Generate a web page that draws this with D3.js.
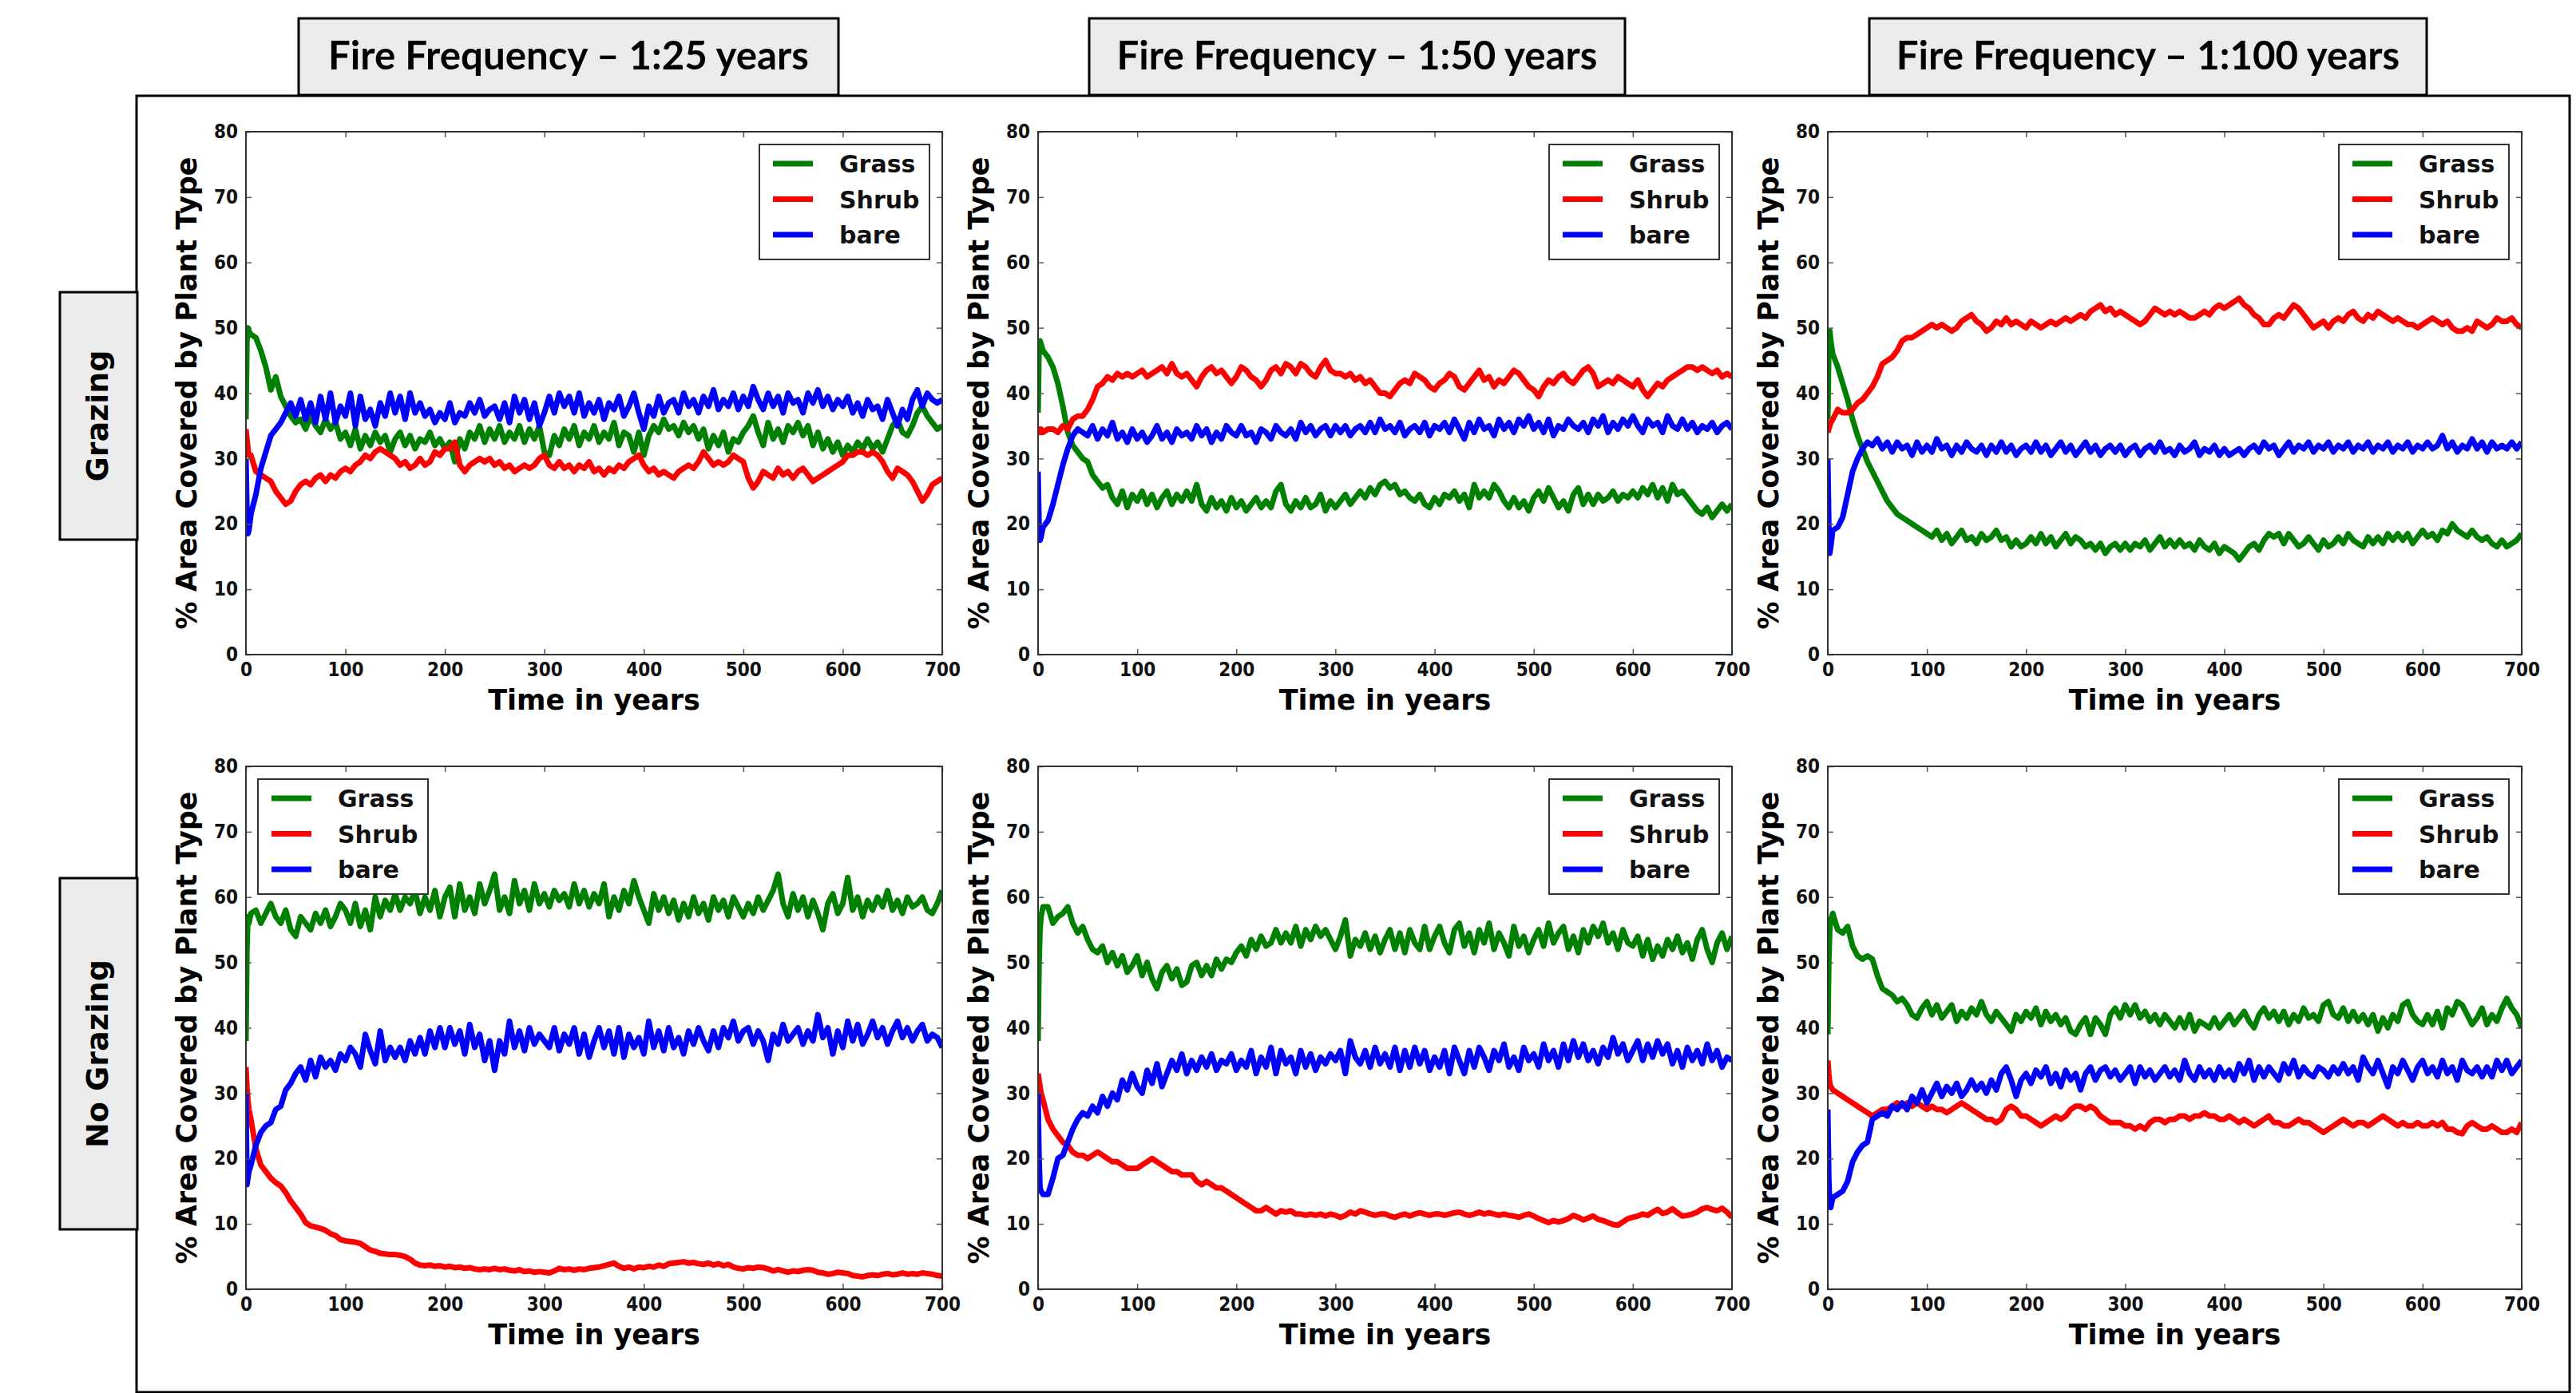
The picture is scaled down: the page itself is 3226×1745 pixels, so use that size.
<!DOCTYPE html>
<html><head><meta charset="utf-8">
<script src="https://cdn.jsdelivr.net/npm/d3@7"></script>
<style>html,body{margin:0;padding:0;background:#fff;overflow:hidden}</style>
</head><body>
<svg id="chart" width="3226" height="1745"></svg>
<script>
// ---------- DATA ----------
const columnTitles = ["Fire Frequency \u2013 1:25 years", "Fire Frequency \u2013 1:50 years", "Fire Frequency \u2013 1:100 years"];
const rowTitles = ["Grazing", "No Grazing"];
const seriesNames = ["Grass", "Shrub", "bare"];
const xTicks = [0, 100, 200, 300, 400, 500, 600, 700];
const yTicks = [0, 10, 20, 30, 40, 50, 60, 70, 80];
const xLabel = "Time in years";
const yLabel = "% Area Covered by Plant Type";
const years = [0, 1, 2, 3].concat(d3.range(5, 701, 5));

// Grazing, fire 1:25
const grazing25Grass = [36,48,50,49.5,
 49,48.5,46.5,44,40.5,42.5,39.5,38,36.5,35.5,
 36,34.5,36.5,35,34,36,34.5,35.5,33,34,
 32,34.5,31.5,33.5,32,34,32.5,33.5,31,33,
 34,32,33.5,31.5,33,32.5,34,32,33,31.5,
 32.5,29.5,33,31.5,34,33,35,32.5,34.5,33,
 35,32.5,34,33,35,32.5,34.5,33,35,31,
 30.5,33.5,32,34.5,33,35,32,34,33,35,
 32.5,34,33,35.5,32,34,33.5,31,34,30.5,
 33.5,35,34,36,34.5,35,33.5,35.5,34,35,
 33,34.5,31.5,33.5,32,34,31,33,32.5,34,
 35,36.5,34,32,35.5,33,34.5,32.5,35,34,
 35.5,33.5,35,32,34,31.5,33,31,32.5,30.5,
 32,31,32.5,31.5,33,31.5,32.5,31,33,35,
 36,34,33.5,35,37,38,36.5,35.5,34.5,35];
const grazing25Shrub = [34.5,33,31.5,30.5,
 30.5,28,27.5,27,26.5,25,24,23,23.5,25,
 26,26.5,26,27,27.5,26.5,27.5,27,28,28.5,
 28,29,29.5,30.5,30,31,31.5,31,30.5,30,
 29,29.5,28.5,29,30,29,29.5,31,30.5,31.5,
 31.5,32.5,29,28,29,29.5,30,29.5,30,29,
 29.5,28.5,29,28,28.5,29,28.5,29,30,30.5,
 29,28.5,29.5,28.5,29,28,29,28.5,29.5,28,
 28.5,27.5,28.5,28,29,28.5,29.5,30,30.5,29,
 28,28.5,27.5,28,27.5,27,28,28.5,29,28.5,
 29.5,31,30,29,29.5,29,29.5,30.5,30,29.5,
 27,25.5,26.5,28,27.5,27,28.5,27.5,28,27,
 28,28.5,27.5,26.5,27,27.5,28,28.5,29,29.5,
 30.5,30.5,31,31,30.5,31,30.5,29.5,28,27,
 28.5,28,27.5,26.5,25,23.5,24.5,26,26.5,27];
const grazing25Bare = [30,22,18.5,19,
 21.5,24.5,28.5,31,33.5,34.5,35.5,37,38.5,36.5,
 39,36,38.5,35.5,39.5,36,40,35.5,38,36.5,
 40,35,39.5,36,37.5,35,38.5,36.5,40,37,
 39.5,36,40,37,38.5,36.5,37.5,35.5,37,36,
 38.5,35.5,37,36.5,38.5,37,39,36.5,37.5,38,
 36,38.5,35.5,39.5,37,39,36,38.5,35,37,
 39.5,37,40,38,39.5,37,40,36.5,38.5,37,
 39,36,38.5,37.5,39.5,36.5,38,40,37,34.5,
 38,36.5,39.5,37,38.5,39,37,40,38,39,
 37,39.5,38,40.5,37.5,39,38,40,37.5,39.5,
 38,41,39,37.5,40,38,39.5,37,40,38.5,
 39,37,40,38.5,40.5,38,39.5,37.5,39,38,
 39.5,37,38.5,36.5,39,37.5,38,36,39,37,
 35,37.5,36,39,40.5,38,40,39,38.5,39];

// Grazing, fire 1:50
const grazing50Grass = [37,47,48,47.5,
 46.5,45.5,44,41.5,38,34,32,31,30,29.5,
 27.5,26.5,25.5,26,24,23,25,22.5,24.5,23.5,
 25,23,24.5,22.5,24,25,23,24.5,23.5,25,
 23.5,26,23,22,24,22.5,23.5,22,24,22.5,
 23.5,22,23,24,22.5,23.5,22.5,25,26,23,
 22,23.5,22.5,24,22.5,23,24.5,22,23.5,22.5,
 23.5,24.5,23,24,25,24,25.5,24.5,26,26.5,
 25.5,26,24.5,25,24,23.5,24.5,23,22.5,24,
 23,24.5,24,25,23.5,24.5,22.5,26,24,25,
 24,26,25,23.5,22.5,24,22.5,23.5,22,24,
 25,23.5,25.5,24,22.5,23.5,22,24.5,25.5,23,
 24.5,23,24.5,23.5,24,25,23.5,24.5,24,25,
 24,25.5,24.5,26,24,25.5,23.5,26,24.5,25,
 24,23,22,21.5,22.5,21,22,23,22,23];
const grazing50Shrub = [34,34.5,34,34.5,
 34,34.5,34.5,34,35,34.5,36,36.5,36.5,37.5,
 39,41,41.5,42.5,42,43,42.5,43,42.5,43,
 43.5,42.5,43,43.5,44,43,44.5,43,42.5,43,
 42,41,42.5,43.5,44,43,43.5,42.5,41.5,42.5,
 44,43.5,42.5,42,41,42,43.5,44,43,44.5,
 44,43,44.5,44,43,42.5,44,45,43.5,43,
 43,42.5,43,42,42.5,41.5,42,41,40,40,
 39.5,40.5,41.5,42,41.5,43,42.5,42,41,40.5,
 41.5,42,43,42.5,41,40.5,41.5,42.5,43.5,42,
 42.5,41,42,41.5,42.5,43.5,43,42,41,40.5,
 39.5,41,42,41.5,42.5,43,42,41.5,42.5,43.5,
 44,43,41,41.5,42,41.5,42.5,42,41.5,41,
 42,40.5,39.5,40.5,41.5,41,42,42.5,43,43.5,
 44,44,43.5,44,43.5,43,43.5,42.5,43,42.5];
const grazing50Bare = [28,20,17.5,18,
 19.5,20.5,23,26,29,31.5,33.5,34.5,34,33.5,
 35,33,34.5,33.5,35.5,33,34,32.5,34.5,33,
 34,32.5,33.5,35,33,34,32.5,34.5,33.5,34,
 33,35,33.5,34.5,32.5,34,33,35,34,33.5,
 35,33.5,34,32.5,34.5,34,33,35,34,33.5,
 34.5,33,35.5,34,35,33.5,34.5,35,33.5,35,
 34,35,33.5,34.5,35,34,35.5,34,36,34.5,
 35,34,35.5,33.5,34.5,35,34,35.5,33.5,35,
 34.5,35.5,34,36,34.5,33,35.5,34,36,34.5,
 35,33.5,36,34.5,35.5,34,36,35,36.5,34.5,
 35.5,34,36,33.5,35,34.5,36,35,34.5,35.5,
 34,36,35,36.5,34,35.5,34.5,36,35,36.5,
 35,34,36,35,35.5,34,36.5,35,34.5,36,
 34.5,35.5,34,35,34.5,35.5,34,35,35.5,34.5];

// Grazing, fire 1:100
const grazing100Grass = [36,47,49.5,48,
 46,44,41.5,39,36,33.5,31.5,29.5,28,26.5,
 25,23.5,22.5,21.5,21,20.5,20,19.5,19,18.5,
 18,19,17.5,18.5,17,18,19,17.5,18,17,
 18.5,17.5,18,19,17.5,18,16.5,17.5,16.5,17,
 18,17,18.5,17,18,16.5,17.5,18.5,17,18,
 17.5,16.5,17,16,17,15.5,16.5,17,16,17,
 16,17,16.5,17.5,16,17,18,16.5,17.5,16.5,
 17.5,16.5,17,16,17.5,16.5,16,17,15.5,16.5,
 16,15.5,14.5,15.5,16.5,17,16,17.5,18.5,18,
 18.5,17,18.5,17.5,16.5,17,18,17,16,17.5,
 16.5,17,18,17,18.5,17.5,17,16.5,18,17,
 18,17,18.5,17.5,18.5,17.5,18.5,17,18,19,
 18,18.5,17.5,19,18.5,20,19,18.5,18,19,
 18,17.5,18,17,16.5,17.5,16.5,17,17.5,18.5];
const grazing100Shrub = [34,34.5,35,35.5,
 36,37.5,37,37,37.5,38.5,39,40,41,42.5,
 44.5,45,45.5,46.5,48,48.5,48.5,49,49.5,50,
 50.5,50,50.5,50,49.5,50,51,51.5,52,51,
 50.5,49.5,50,51,50.5,51.5,50.5,51,50.5,50,
 51,50.5,50,50.5,51,50.5,51,51.5,51,51.5,
 52,51.5,52.5,53,53.5,52.5,53,52,52.5,52,
 51.5,51,50.5,51,52,53,52.5,52,52.5,52,
 52.5,52,51.5,51.5,52,52.5,52,53,53.5,53,
 53.5,54,54.5,53.5,53,52,51.5,50.5,50.5,51.5,
 52,51.5,52.5,53.5,53,52,51,50,50.5,51,
 50,51,51.5,51,52,52.5,51.5,51,52,51.5,
 52.5,52,51.5,51,51.5,51,50.5,50.5,50,50.5,
 51,51.5,51,50.5,51,50,49.5,49.5,50,49.5,
 51,50.5,50,50.5,51.5,51,51,51.5,50.5,50];
const grazing100Bare = [30,20,15.5,16.5,
 19,19.5,21,24.5,28,30,31.5,32.5,32,33,
 31.5,32.5,31,32.5,31.5,32,30.5,32.5,31,32,
 31,33,31.5,32,30.5,32,31,32.5,31.5,31,
 32,30.5,32,31,32.5,31,32,30.5,31.5,32,
 31,32.5,31,32,30.5,31.5,32.5,31,32,30.5,
 31.5,32.5,31,32,30.5,31.5,32,31,32,30.5,
 31.5,32,30.5,31.5,32,31,32.5,31,31.5,30.5,
 32,31,31.5,32.5,30.5,31.5,31,32,30.5,31.5,
 30.5,31,31.5,30.5,31.5,32,31,32.5,31.5,32,
 30.5,31.5,32.5,31,32,31.5,32.5,31,32,31.5,
 32.5,31,32,31.5,32.5,31,32,31.5,32.5,31,
 32,31.5,32.5,31,32,31.5,32.5,31,32,31.5,
 32.5,31.5,32,33.5,31.5,32.5,31,32,31.5,33,
 31.5,32.5,31,32.5,31.5,32,31.5,32.5,31.5,32.5];

// No grazing, fire 1:25
const noGrazing25Grass = [38,52,57,56,
 57.5,58,56,57.5,59,57,56,58,55,54,
 57,56,55,57.5,56,58,55.5,57,59,58,
 56,59,55.5,58,55,60,57,59.5,58,60.5,
 58,60,59,61,57.5,60,58,61,57,60,
 61.5,57,62,58,60,57.5,62,59,61,63.5,
 58,60,57.5,62.5,59,61,58,62,59,60.5,
 58.5,61,59.5,60.5,58.5,62,59,61,58.5,60.5,
 59,62,57,60,58,61,59,62.5,60,58,
 56,60.5,58,60,57.5,59.5,56.5,59,57,60,
 57.5,59,56.5,60,58,59.5,57,60,58.5,57,
 59,57.5,60,58,59.5,61,63.5,59,57,60.5,
 58,60,57,59.5,57.5,55,59,60.5,57.5,59,
 63,58,60,57,59.5,58,60,58.5,61,58,
 59.5,57.5,60,58.5,59,60,58,57.5,59,61];
const noGrazing25Shrub = [34,31,29,27.5,
 26,21.5,19,18,17,16.3,15.8,14.8,13.5,12.5,
 11.5,10.2,9.7,9.5,9.3,9,8.5,8.2,7.6,7.4,
 7.3,7.2,7,6.5,6,5.8,5.5,5.4,5.3,5.3,
 5.2,5,4.6,4,3.7,3.6,3.7,3.5,3.6,3.4,
 3.5,3.3,3.4,3.2,3.3,3.1,3,3.1,3,3.2,
 3,3.1,2.9,2.8,3,2.7,2.8,2.6,2.7,2.6,
 2.5,2.8,3.2,3,3.1,2.9,3.1,3,3.2,3.3,
 3.4,3.6,3.8,4,3.5,3.2,3.4,3.1,3.4,3.3,
 3.5,3.4,3.7,3.5,3.9,4,4.1,4.2,4,4.1,
 3.9,3.8,4,3.7,3.9,3.6,3.8,3.4,3.2,3.1,
 3.3,3.2,3.4,3.3,3.1,2.8,3,2.8,2.6,2.8,
 2.7,2.9,3,2.9,2.6,2.5,2.3,2.4,2.6,2.5,
 2.4,2.1,2,1.9,2.1,2.2,2.1,2.3,2.4,2.2,
 2.3,2.5,2.3,2.4,2.3,2.5,2.4,2.3,2.1,2];
const noGrazing25Bare = [30,16,17,18,
 19,22,24,25,25.5,27.5,28,30.5,31.5,33,
 34,32,35,32.5,35.5,34,35,33.5,36,35,
 37,36,34,39,36.5,34.5,39.5,35,37,35.5,
 37,35,38,36,38.5,36,39.5,37,40,37,
 40,37.5,39.5,36,40.5,37,39,35,38,33.5,
 38,36,41,37,39.5,36.5,40,37.5,39,38,
 37,40,36.5,39,37.5,40,36,39,35.5,38,
 40,37,39.5,36,40,35.5,39,37,38.5,36,
 41,37,39.5,36.5,40,37,38.5,36,39.5,37.5,
 40,38,36.5,39.5,37,40,38.5,41,38,39.5,
 40,37.5,39.5,38,35,39,37.5,40.5,38,39,
 40,37.5,39.5,38,42,38.5,40,36,39.5,37,
 41,38,40.5,37.5,39,41,38.5,40,37.5,39.5,
 41,38.5,40,38,39.5,40.5,38,39,38.5,37];

// No grazing, fire 1:50
const noGrazing50Grass = [38,50,55,57,
 58.5,58.5,56,57,57.5,58.5,56,54.5,55.5,53.5,
 52,51.5,52.5,50,51.5,49.5,51,48.5,49.5,51,
 48,50,47.5,46,48.5,49.5,47.5,49,46.5,47,
 49.5,50,48,49.5,48,50.5,49,50.5,50,51.5,
 52.5,51,53.5,52,54,52.5,53,55,53,54.5,
 53,55.5,52.5,55,53.5,55.5,54,55,53.5,52,
 54,56.5,51,53.5,52.5,54.5,52,54,51.5,53.5,
 55,52,54.5,51.5,55,53,52,55.5,52,54,
 55.5,53,51.5,55,56,52.5,54.5,51.5,55,53,
 56,52,54.5,53,51,55.5,52.5,54,51.5,53.5,
 55,52.5,56,53,54.5,55.5,52,54,51.5,55,
 53,55.5,54,56,53,54.5,52,55,53,52.5,
 54,51,53.5,50.5,52.5,51,53.5,52,54,51.5,
 53,50.5,53.5,55,52,50,53,54.5,52,54];
const noGrazing50Shrub = [33,32,31,30,
 29,26,24.5,23.5,22.5,22,21,20.5,20.5,20,
 20.5,21,20.5,20,19.5,19.5,19,18.5,18.5,18.5,
 19,19.5,20,19.5,19,18.5,18,18,17.5,17.5,
 17.5,16.5,16,16.5,16,15.5,15.5,15,14.5,14,
 13.5,13,12.5,12,12,12.5,12,11.5,12,11.8,
 12,11.5,11.5,11.3,11.5,11.3,11.5,11.2,11.5,11.3,
 11,11.3,11.8,11.5,12,11.8,11.5,11.3,11.5,11.5,
 11.2,11,11.3,11.5,11.2,11.5,11.7,11.5,11.3,11.5,
 11.5,11.3,11.5,11.7,11.8,11.5,11.3,11.5,11.8,11.5,
 11.7,11.5,11.3,11.5,11.3,11.2,11,11.3,11.5,11.2,
 10.8,10.5,10.2,10.5,10.3,10.5,10.8,11.3,11,10.6,
 10.9,11.2,10.7,10.5,10.2,9.9,9.8,10.3,10.8,11,
 11.2,11.5,11.3,11.8,12.2,11.6,11.8,12.3,11.7,11.2,
 11.3,11.5,11.8,12.3,12.5,12.2,12,12.4,11.8,11];
const noGrazing50Bare = [30,20,15.5,15,
 14.5,14.5,17,20,20.5,22.5,24.5,26,27,26.5,
 28,27,29.5,28,30,29,32,30.5,33,31,
 30,33.5,31.5,34.5,31,33,35,33.5,36,33,
 35,33.5,35.5,34,36,33.5,35,34.5,36,33.5,
 35,34,36.5,33,35.5,34,37,33,36.5,34.5,
 35.5,33,36.5,34,36,33.5,35.5,34.5,36,35,
 36.5,33,38,35.5,34.5,36.5,34,37,34.5,36,
 34,37,33.5,36.5,34,37,34.5,36.5,33.5,35.5,
 34,36.5,33,37,35,33,36.5,34,37,35.5,
 33.5,36.5,35,37.5,34,35.5,33.5,37,35,36,
 34,37.5,35,36.5,34,37.5,35,38,35.5,37.5,
 35,36.5,34.5,37,35.5,38.5,36,37.5,35,36.5,
 38,35,37.5,35.5,38,36,37.5,34.5,36.5,34,
 37,35,36.5,34.5,37.5,35,36.5,34,35.5,35];

// No grazing, fire 1:100
const noGrazing100Grass = [39,50,55,56.5,
 57.5,55,54.5,55.5,52.5,51,50.5,51,50.5,48,
 46,45.5,45,44,44.5,43.5,42,41.5,43,44,
 42,43.5,41.5,42.5,43.5,41,42.5,41.5,43,42,
 44,42,41,42.5,41.5,40.5,39.5,42,41,42.5,
 41.5,43,40.5,42.5,41,42,40.5,41.5,39.5,39,
 40.5,41.5,39,41.5,40.5,39,42,43,41.5,43.5,
 42,43.5,41.5,42.5,41,42,40.5,42,41,40,
 41.5,40,42,39.5,41,40.5,40,41.5,40,41,
 42,40.5,41.5,42.5,41,40,42,43,41.5,42.5,
 41,42.5,40.5,42,41,43,41.5,42,41,43.5,
 44,42,41.5,43,41,42.5,41,42,40.5,42,
 39.5,41.5,40,42,41,43.5,44,42,41,40.5,
 42,40.5,42.5,40,43,42,44,43.5,42,40.5,
 41.5,43,40.5,42,41,43,44.5,43,42,40];
const noGrazing100Shrub = [35,33,31.5,31,
 30.5,30,29.5,29,28.5,28,27.5,27,26.5,27,
 27.5,27.5,28,28.5,28,28.5,28,28.5,28,27.5,
 28,27.5,27.5,27,27.5,28,28.5,28,27.5,27,
 26.5,26,26,25.5,26,27.5,28,27.5,26.5,26.5,
 26,25.5,25,25.5,26,26.5,26,26.5,27.5,28,
 28,27.5,28,27.5,26.5,26,25.5,25.5,25.5,25,
 25,24.5,25,24.5,25.5,26,26,25.5,26,26,
 26.5,26.5,26,26.5,26.5,27,26.5,26.5,26,26,
 26.5,26,25.5,26,25.5,25,25.5,26,26.5,25.5,
 25.5,25,25,25.5,26,25.5,25.5,25,24.5,24,
 24.5,25,25.5,26,25.5,25,25.5,25.5,25,25.5,
 26,26.5,26,25.5,25,25.5,25,25,25.5,25,
 25,25.5,25,25.5,24.5,24.5,24,23.8,25,25.5,
 25,24.5,24.5,25,24.5,24,24,24.5,24,25.5];
const noGrazing100Bare = [27.5,17,13,12.5,
 14,14.5,15,16.5,19.5,21,22,22.5,26,26.5,
 27,26.5,28,27.5,28.5,27.5,29.5,28.5,30.5,28.5,
 30,31.5,29.5,31,30,31.5,29.5,30.5,32,30.5,
 31.5,30,32,30.5,33,34,32,29.5,32,33,
 31.5,33.5,32.5,34,31.5,33,31,33.5,32,33,
 30.5,33,34,32,33.5,34,32.5,33.5,32,33,
 34,31.5,34,32.5,33.5,32,33,34,32.5,33.5,
 32,35,33,32,34,32.5,33.5,32,34,32.5,
 33.5,32,34.5,33,35,32,34,32.5,34,33,
 32,34.5,33,35,32.5,34,33,32.5,34,33.5,
 32.5,34,33,34.5,33,34,32,35.5,34,33,
 35,33,31,34,33,35,33.5,32,34,35,
 33,34,32.5,35,33,34,32,35,33.5,33,
 34,32.5,34,32.5,35,33.5,35,33,34,35];

const seriesColors = ["#008000", "#ff0000", "#0000ff"];

// ---------- LAYOUT ----------
const panels = [
  {row:0, col:0, data:[grazing25Grass, grazing25Shrub, grazing25Bare], legend:"right"},
  {row:0, col:1, data:[grazing50Grass, grazing50Shrub, grazing50Bare], legend:"right"},
  {row:0, col:2, data:[grazing100Grass, grazing100Shrub, grazing100Bare], legend:"right"},
  {row:1, col:0, data:[noGrazing25Grass, noGrazing25Shrub, noGrazing25Bare], legend:"left"},
  {row:1, col:1, data:[noGrazing50Grass, noGrazing50Shrub, noGrazing50Bare], legend:"right"},
  {row:1, col:2, data:[noGrazing100Grass, noGrazing100Shrub, noGrazing100Bare], legend:"right"}
];
const colX = [[308, 1180], [1300, 2169], [2289, 3158]];
const rowY = [[165, 820], [960, 1615]];
const titleBoxes = [[374, 1050], [1364, 2035], [2341, 3039]];
const rowBoxes = [[366, 676], [1100, 1540]];

const svg = d3.select("#chart");
const bold = "'DejaVu Sans', 'Liberation Sans', sans-serif";
const cond = "'DejaVu Sans Condensed', 'DejaVu Sans', sans-serif";

// outer frame
svg.append("rect").attr("x", 171).attr("y", 120).attr("width", 3218 - 171).attr("height", 1744 - 120)
  .attr("fill", "#fff").attr("stroke", "#000").attr("stroke-width", 3);

// column title boxes
const titleTexts = [];
titleBoxes.forEach((b, i) => {
  svg.append("rect").attr("x", b[0]).attr("y", 23).attr("width", b[1] - b[0]).attr("height", 96)
    .attr("fill", "#ebebeb").attr("stroke", "#000").attr("stroke-width", 3);
  const t = svg.append("text").attr("x", (b[0] + b[1]) / 2).attr("y", 87)
    .attr("text-anchor", "middle").attr("font-family", "Lato, 'Open Sans', sans-serif")
    .attr("font-weight", 700).attr("font-size", 50).attr("fill", "#000").text(columnTitles[i]);
  titleTexts.push(t);
});
const base = titleTexts[0].node().getComputedTextLength();
const fs = 50 * 602 / base;
titleTexts.forEach(t => t.attr("font-size", fs));

// row label boxes
rowBoxes.forEach((b, i) => {
  svg.append("rect").attr("x", 75).attr("y", b[0]).attr("width", 97).attr("height", b[1] - b[0])
    .attr("fill", "#ebebeb").attr("stroke", "#000").attr("stroke-width", 3);
  svg.append("text").attr("transform", `translate(135,${(b[0] + b[1]) / 2}) rotate(-90)`)
    .attr("text-anchor", "middle").attr("font-family", bold).attr("font-weight", "bold")
    .attr("font-size", 38).attr("fill", "#000").text(rowTitles[i]);
});

// panels
panels.forEach((p, pi) => {
  const [L, R] = colX[p.col];
  const [T, B] = rowY[p.row];
  const x = d3.scaleLinear().domain([0, 700]).range([L, R]);
  const y = d3.scaleLinear().domain([0, 80]).range([B, T]);
  const g = svg.append("g");

  g.append("clipPath").attr("id", "clip" + pi).append("rect")
    .attr("x", L).attr("y", T).attr("width", R - L).attr("height", B - T);

  const line = d3.line().x((d, i) => x(years[i])).y(d => y(d));
  p.data.forEach((s, si) => {
    g.append("path").datum(s).attr("d", line).attr("fill", "none")
      .attr("stroke", seriesColors[si]).attr("stroke-width", 7)
      .attr("stroke-linejoin", "round").attr("clip-path", `url(#clip${pi})`);
  });

  const styleAxis = sel => {
    sel.select(".domain").remove();
    sel.selectAll(".tick line").attr("stroke", "#555").attr("stroke-width", 1.5);
    sel.selectAll(".tick text").attr("font-family", cond).attr("font-weight", "bold")
      .attr("font-size", 24).attr("fill", "#111").style("font-stretch", "condensed");
  };
  g.append("g").attr("transform", `translate(0,${B})`)
    .call(d3.axisBottom(x).tickValues(xTicks).tickSize(-7).tickPadding(10).tickFormat(d3.format("d"))).call(styleAxis);
  g.append("g").attr("transform", `translate(0,${T})`)
    .call(d3.axisTop(x).tickValues(xTicks).tickSize(-7).tickFormat("")).call(styleAxis);
  g.append("g").attr("transform", `translate(${L},0)`)
    .call(d3.axisLeft(y).tickValues(yTicks).tickSize(-7).tickPadding(10).tickFormat(d3.format("d"))).call(styleAxis);
  g.append("g").attr("transform", `translate(${R},0)`)
    .call(d3.axisRight(y).tickValues(yTicks).tickSize(-7).tickFormat("")).call(styleAxis);

  g.append("rect").attr("x", L).attr("y", T).attr("width", R - L).attr("height", B - T)
    .attr("fill", "none").attr("stroke", "#333").attr("stroke-width", 2);

  // axis labels
  g.append("text").attr("x", (L + R) / 2).attr("y", B + 69).attr("text-anchor", "middle")
    .attr("font-family", bold).attr("font-weight", "bold").attr("font-size", 35).attr("fill", "#000")
    .text(xLabel);
  g.append("text").attr("transform", `translate(${L - 62},${(T + B) / 2}) rotate(-90)`)
    .attr("text-anchor", "middle").attr("font-family", bold).attr("font-weight", "bold")
    .attr("font-size", 35).attr("fill", "#000").text(yLabel);

  // legend
  const lw = 213, lh = 144;
  const lx = p.legend === "right" ? R - 16 - lw : L + 15;
  const ly = T + 16;
  const lg = g.append("g").attr("transform", `translate(${lx},${ly})`);
  lg.append("rect").attr("width", lw).attr("height", lh).attr("fill", "#fff")
    .attr("stroke", "#333").attr("stroke-width", 2);
  seriesNames.forEach((n, si) => {
    const cy = 24 + si * 44.5;
    lg.append("line").attr("x1", 17).attr("x2", 67).attr("y1", cy).attr("y2", cy)
      .attr("stroke", seriesColors[si]).attr("stroke-width", 7);
    lg.append("text").attr("x", 100).attr("y", cy + 11).attr("font-family", bold)
      .attr("font-weight", "bold").attr("font-size", 30).attr("fill", "#111").text(n);
  });
});
</script>
</body></html>
